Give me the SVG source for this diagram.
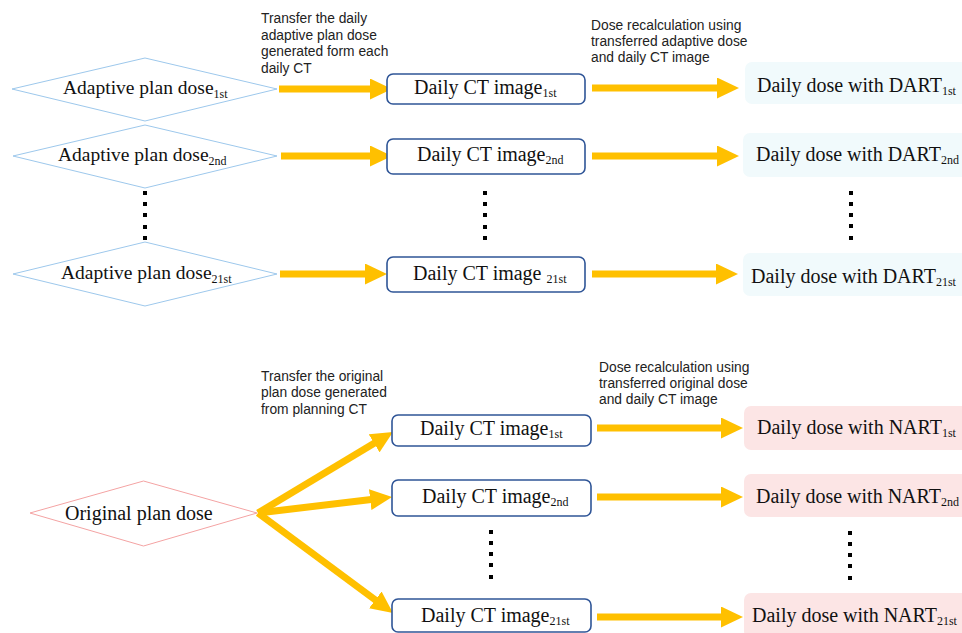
<svg xmlns="http://www.w3.org/2000/svg" width="962" height="633" viewBox="0 0 962 633">
<style>
.bg{fill:#ffffff}
.dia-a{fill:#ffffff;stroke:#9DC8EC;stroke-width:1}
.dia-o{fill:#ffffff;stroke:#F4A3A3;stroke-width:1}
.ct{fill:#ffffff;stroke:#2F5597;stroke-width:1.6}
.dart{fill:#F1FAFC;stroke:none}
.nart{fill:#FCE5E5;stroke:none}
.lbl{font-family:"Liberation Serif","Times New Roman",serif;font-size:20px;fill:#111111}
.dlbl{font-family:"Liberation Serif","Times New Roman",serif;font-size:19.5px;fill:#111111}
.sub{font-size:12px}
.note{font-family:"Liberation Sans",Arial,sans-serif;font-size:13.8px;fill:#222222}
.arr{stroke:#FFC000;stroke-width:7;fill:none;marker-end:url(#head)}
.dot{fill:#000000}
</style>
<defs>
<marker id="head" markerUnits="userSpaceOnUse" markerWidth="23" markerHeight="21" refX="1" refY="10.5" orient="auto">
<path d="M0,0 L22,10.5 L0,21 z" fill="#FFC000"/>
</marker>
</defs>
<rect class="bg" x="0" y="0" width="962" height="633"/>

<g id="notes">
<text class="note" x="261" y="23">Transfer the daily</text>
<text class="note" x="261" y="39.5">adaptive plan dose</text>
<text class="note" x="261" y="56">generated form each</text>
<text class="note" x="261" y="72.5">daily CT</text>
<text class="note" x="591" y="30">Dose recalculation using</text>
<text class="note" x="591" y="46">transferred adaptive dose</text>
<text class="note" x="591" y="62">and daily CT image</text>
<text class="note" x="261" y="380.5">Transfer the original</text>
<text class="note" x="261" y="397">plan dose generated</text>
<text class="note" x="261" y="413.5">from planning CT</text>
<text class="note" x="599" y="372">Dose recalculation using</text>
<text class="note" x="599" y="388">transferred original dose</text>
<text class="note" x="599" y="404">and daily CT image</text>
</g>

<g id="connectors">
<line class="arr" x1="279" y1="89" x2="371" y2="89"/>
<line class="arr" x1="281" y1="156" x2="371" y2="156"/>
<line class="arr" x1="280" y1="274" x2="366" y2="274"/>
<line class="arr" x1="592" y1="88" x2="718" y2="88"/>
<line class="arr" x1="592" y1="156" x2="718" y2="156"/>
<line class="arr" x1="592" y1="274" x2="717" y2="274"/>
<line class="arr" x1="258" y1="513" x2="375" y2="442.8"/>
<line class="arr" x1="258" y1="513" x2="371.2" y2="499.5"/>
<line class="arr" x1="258" y1="513" x2="376.1" y2="600.5"/>
<line class="arr" x1="597" y1="428" x2="722" y2="428"/>
<line class="arr" x1="597" y1="497" x2="722" y2="497"/>
<line class="arr" x1="597" y1="617" x2="722" y2="617"/>
</g>

<g id="adaptive1">
<polygon class="dia-a" points="12,89 145,58 277,89 145,121"/>
<text class="dlbl" x="63" y="94">Adaptive plan dose<tspan class="sub" dy="4">1st</tspan></text>
</g>
<g id="adaptive2">
<polygon class="dia-a" points="13,156 145,125 277,156 145,188"/>
<text class="dlbl" x="58" y="161">Adaptive plan dose<tspan class="sub" dy="4">2nd</tspan></text>
</g>
<g id="adaptive21">
<polygon class="dia-a" points="13,274 145,242 277,274 145,306"/>
<text class="dlbl" x="61" y="279">Adaptive plan dose<tspan class="sub" dy="4">21st</tspan></text>
</g>

<g id="ct1a">
<rect class="ct" x="387" y="74" width="198" height="30" rx="6"/>
<text class="lbl" x="414" y="94">Daily CT image<tspan class="sub" dy="3">1st</tspan></text>
</g>
<g id="ct2a">
<rect class="ct" x="387" y="139" width="198" height="35" rx="6"/>
<text class="lbl" x="417" y="161">Daily CT image<tspan class="sub" dy="3">2nd</tspan></text>
</g>
<g id="ct21a">
<rect class="ct" x="387" y="257" width="198" height="35" rx="6"/>
<text class="lbl" x="413" y="280">Daily CT image <tspan class="sub" dy="3">21st</tspan></text>
</g>

<g id="dart1">
<rect class="dart" x="745" y="62" width="235" height="42" rx="7"/>
<text class="lbl" x="757" y="92">Daily dose with DART<tspan class="sub" dy="3">1st</tspan></text>
</g>
<g id="dart2">
<rect class="dart" x="743" y="133" width="237" height="44" rx="7"/>
<text class="lbl" x="756" y="161">Daily dose with DART<tspan class="sub" dy="3">2nd</tspan></text>
</g>
<g id="dart21">
<rect class="dart" x="743" y="253" width="237" height="43" rx="7"/>
<text class="lbl" x="751" y="283">Daily dose with DART<tspan class="sub" dy="3">21st</tspan></text>
</g>

<g id="original">
<polygon class="dia-o" points="30,513 143.5,481 257,513 143.5,546"/>
<text class="lbl" x="65" y="520">Original plan dose</text>
</g>

<g id="ct1b">
<rect class="ct" x="392" y="415" width="199" height="31" rx="6"/>
<text class="lbl" x="420" y="435">Daily CT image<tspan class="sub" dy="3">1st</tspan></text>
</g>
<g id="ct2b">
<rect class="ct" x="392" y="480" width="199" height="36" rx="6"/>
<text class="lbl" x="422" y="503">Daily CT image<tspan class="sub" dy="3">2nd</tspan></text>
</g>
<g id="ct21b">
<rect class="ct" x="392" y="599" width="199" height="33" rx="6"/>
<text class="lbl" x="421" y="622">Daily CT image<tspan class="sub" dy="3">21st</tspan></text>
</g>

<g id="nart1">
<rect class="nart" x="744" y="406" width="236" height="44" rx="7"/>
<text class="lbl" x="757" y="434">Daily dose with NART<tspan class="sub" dy="3">1st</tspan></text>
</g>
<g id="nart2">
<rect class="nart" x="744" y="474" width="236" height="43" rx="7"/>
<text class="lbl" x="756" y="503">Daily dose with NART<tspan class="sub" dy="3">2nd</tspan></text>
</g>
<g id="nart21">
<rect class="nart" x="744" y="593" width="236" height="45" rx="7"/>
<text class="lbl" x="752" y="622">Daily dose with NART<tspan class="sub" dy="3">21st</tspan></text>
</g>

<g id="ellipses">
<rect class="dot" x="143" y="191" width="4" height="4"/>
<rect class="dot" x="143" y="202" width="4" height="4"/>
<rect class="dot" x="143" y="213" width="4" height="4"/>
<rect class="dot" x="143" y="225" width="4" height="4"/>
<rect class="dot" x="143" y="236" width="4" height="4"/>
<rect class="dot" x="483" y="191" width="4" height="4"/>
<rect class="dot" x="483" y="202" width="4" height="4"/>
<rect class="dot" x="483" y="213" width="4" height="4"/>
<rect class="dot" x="483" y="225" width="4" height="4"/>
<rect class="dot" x="483" y="236" width="4" height="4"/>
<rect class="dot" x="849" y="191" width="4" height="4"/>
<rect class="dot" x="849" y="202" width="4" height="4"/>
<rect class="dot" x="849" y="213" width="4" height="4"/>
<rect class="dot" x="849" y="224" width="4" height="4"/>
<rect class="dot" x="849" y="236" width="4" height="4"/>
<rect class="dot" x="489" y="530" width="4" height="4"/>
<rect class="dot" x="489" y="541" width="4" height="4"/>
<rect class="dot" x="489" y="552" width="4" height="4"/>
<rect class="dot" x="489" y="563" width="4" height="4"/>
<rect class="dot" x="489" y="575" width="4" height="4"/>
<rect class="dot" x="848" y="531" width="4" height="4"/>
<rect class="dot" x="848" y="542" width="4" height="4"/>
<rect class="dot" x="848" y="553" width="4" height="4"/>
<rect class="dot" x="848" y="564" width="4" height="4"/>
<rect class="dot" x="848" y="576" width="4" height="4"/>
</g>
</svg>
